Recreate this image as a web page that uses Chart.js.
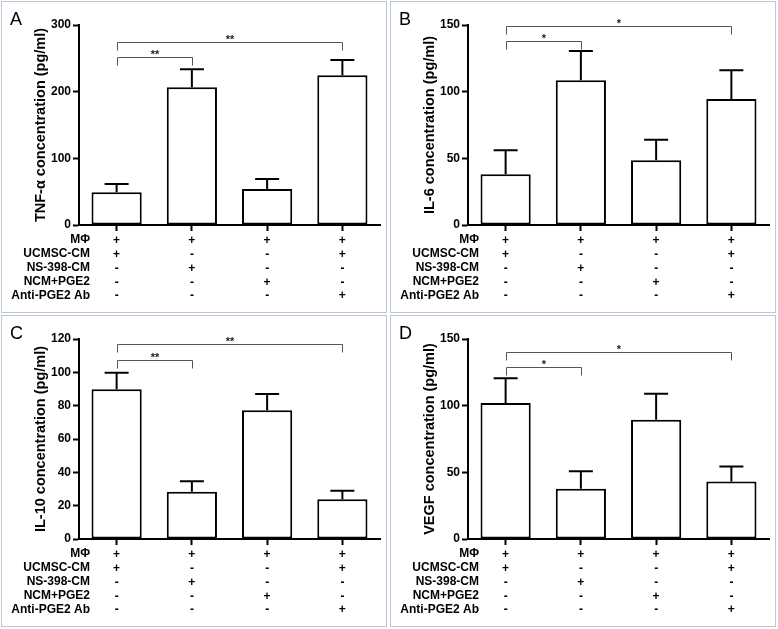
<!DOCTYPE html>
<html>
<head>
<meta charset="utf-8">
<script src="https://cdn.jsdelivr.net/npm/chart.js@4.4.1/dist/chart.umd.min.js"></script>
<style>
  body { margin: 0; background: #fff; width: 778px; height: 629px; position: relative; overflow: hidden; }
  .panel { position: absolute; box-sizing: border-box; width: 386px; height: 312px; border: 1px solid #b9c7d6; background: #fff; }
  .panel canvas { display: block; }
</style>
</head>
<body>
<div class="panel" style="left:1px;top:1px"><canvas id="chartA" width="384" height="310"></canvas></div>
<div class="panel" style="left:390px;top:1px"><canvas id="chartB" width="384" height="310"></canvas></div>
<div class="panel" style="left:1px;top:315px"><canvas id="chartC" width="384" height="310"></canvas></div>
<div class="panel" style="left:390px;top:315px"><canvas id="chartD" width="384" height="310"></canvas></div>
<script>
// treatment rows shown under each bar
const rowNames = ['MΦ', 'UCMSC-CM', 'NS-398-CM', 'NCM+PGE2', 'Anti-PGE2 Ab'];
const barSigns = [
  ['+', '+', '-', '-', '-'],
  ['+', '-', '+', '-', '-'],
  ['+', '-', '-', '+', '-'],
  ['+', '+', '-', '-', '+']
];

// mean and SEM
const tnfMeans = [49, 206.5, 54, 224.5];
const tnfSem = [12.5, 27, 15, 23];
const il6Means = [38, 108.5, 48.5, 94.5];
const il6Sem = [18, 22, 15.5, 21.5];
const il10Means = [89.8, 28.4, 77.2, 23.8];
const il10Sem = [10, 6.2, 9.8, 5.2];
const vegfMeans = [102, 37.6, 89.4, 43.1];
const vegfSem = [18.5, 13.2, 19.5, 11.3];

// y tick labels
const tnfTicks = [0, 100, 200, 300];
const il6Ticks = [0, 50, 100, 150];
const il10Ticks = [0, 20, 40, 60, 80, 100, 120];
const vegfTicks = [0, 50, 100, 150];

// significance brackets: bar pairs, bracket level (data units), stars
const comparePairs = [[0, 1], [0, 3]];
const tnfBracketLevels = [252, 275];
const tnfStars = ['**', '**'];
const il6BracketLevels = [138, 149.5];
const il6Stars = ['*', '*'];
const il10BracketLevels = [107.2, 116.8];
const il10Stars = ['**', '**'];
const vegfBracketLevels = [129, 140.2];
const vegfStars = ['*', '*'];

const FONT = '"Liberation Sans", Arial, sans-serif';
const TICK_LEN = 6;
const TICK_PAD = 3;
const LINE_H = 1.15;

function makeExtras(spec) {
  return {
    id: 'extras' + spec.letter,
    afterDatasetsDraw(chart) {
      const ctx = chart.ctx;
      const y = chart.scales.y;
      const meta = chart.getDatasetMeta(0);
      ctx.save();
      ctx.strokeStyle = '#000';
      ctx.lineWidth = 2;
      meta.data.forEach((bar, i) => {
        const top = y.getPixelForValue(spec.means[i] + spec.sem[i]);
        ctx.beginPath();
        ctx.moveTo(bar.x, bar.y);
        ctx.lineTo(bar.x, top);
        ctx.moveTo(bar.x - 12, top);
        ctx.lineTo(bar.x + 12, top);
        ctx.stroke();
      });
      ctx.restore();
    },
    afterDraw(chart) {
      const ctx = chart.ctx;
      const x = chart.scales.x, y = chart.scales.y;
      ctx.save();
      // brackets
      ctx.strokeStyle = '#555';
      ctx.lineWidth = 1;
      ctx.fillStyle = '#222';
      ctx.font = 'bold 11px ' + FONT;
      ctx.textAlign = 'center';
      ctx.textBaseline = 'alphabetic';
      comparePairs.forEach((pair, k) => {
        const ly = Math.round(y.getPixelForValue(spec.levels[k])) + 0.5;
        const x1 = Math.round(x.getPixelForValue(pair[0])) + 0.5;
        const x2 = Math.round(x.getPixelForValue(pair[1])) + 0.5;
        ctx.beginPath();
        ctx.moveTo(x1, ly + 8);
        ctx.lineTo(x1, ly);
        ctx.lineTo(x2, ly);
        ctx.lineTo(x2, ly + 8);
        ctx.stroke();
        ctx.fillText(spec.stars[k], (x1 + x2) / 2, ly);
      });
      // row names to the left of the sign table
      ctx.fillStyle = '#000';
      ctx.font = 'bold 12px ' + FONT;
      ctx.textAlign = 'right';
      ctx.textBaseline = 'top';
      const y0 = x.top + TICK_LEN + TICK_PAD;
      rowNames.forEach((name, i) => {
        ctx.fillText(name, 88, y0 + i * 12 * LINE_H);
      });
      // panel letter
      ctx.font = '18px ' + FONT;
      ctx.textAlign = 'left';
      ctx.textBaseline = 'alphabetic';
      ctx.fillText(spec.letter, 8, 23);
      ctx.restore();
    }
  };
}

function drawPanel(spec) {
  const ticks = spec.ticks;
  new Chart(document.getElementById('chart' + spec.letter), {
    type: 'bar',
    data: {
      labels: barSigns,
      datasets: [{
        data: spec.means,
        backgroundColor: '#fff',
        borderColor: '#000',
        borderWidth: 2,
        borderSkipped: false,
        barPercentage: 0.667,
        categoryPercentage: 1
      }]
    },
    options: {
      responsive: false,
      animation: false,
      devicePixelRatio: 1,
      layout: { padding: { top: 23, right: 6, left: 0, bottom: 0 } },
      plugins: { legend: { display: false }, tooltip: { enabled: false } },
      scales: {
        x: {
          offset: true,
          afterFit: (s) => { s.height = 87; },
          grid: { display: true, offset: false, drawOnChartArea: false, tickLength: TICK_LEN, tickColor: '#000', tickWidth: 2 },
          border: { display: true, color: '#000', width: 2 },
          ticks: { color: '#000', padding: TICK_PAD, maxRotation: 0, autoSkip: false, font: { family: FONT, size: 12, weight: 'bold', lineHeight: LINE_H } }
        },
        y: {
          min: ticks[0],
          max: ticks[ticks.length - 1],
          afterFit: (s) => { s.width = 77; },
          grid: { display: true, drawOnChartArea: false, tickLength: TICK_LEN, tickColor: '#000', tickWidth: 2 },
          border: { display: true, color: '#000', width: 2 },
          ticks: { stepSize: ticks[1] - ticks[0], color: '#000', padding: 2, font: { family: FONT, size: 12, weight: 'bold' } },
          title: { display: true, text: spec.title, color: '#000', padding: { top: 30, bottom: 0 }, font: { family: FONT, size: 14.5, weight: 'bold' } }
        }
      }
    },
    plugins: [makeExtras(spec)]
  });
}

drawPanel({ letter: 'A', title: 'TNF-α concentration (pg/ml)', means: tnfMeans, sem: tnfSem, ticks: tnfTicks, levels: tnfBracketLevels, stars: tnfStars });
drawPanel({ letter: 'B', title: 'IL-6 concentration (pg/ml)', means: il6Means, sem: il6Sem, ticks: il6Ticks, levels: il6BracketLevels, stars: il6Stars });
drawPanel({ letter: 'C', title: 'IL-10 concentration (pg/ml)', means: il10Means, sem: il10Sem, ticks: il10Ticks, levels: il10BracketLevels, stars: il10Stars });
drawPanel({ letter: 'D', title: 'VEGF concentration (pg/ml)', means: vegfMeans, sem: vegfSem, ticks: vegfTicks, levels: vegfBracketLevels, stars: vegfStars });
</script>
</body>
</html>
